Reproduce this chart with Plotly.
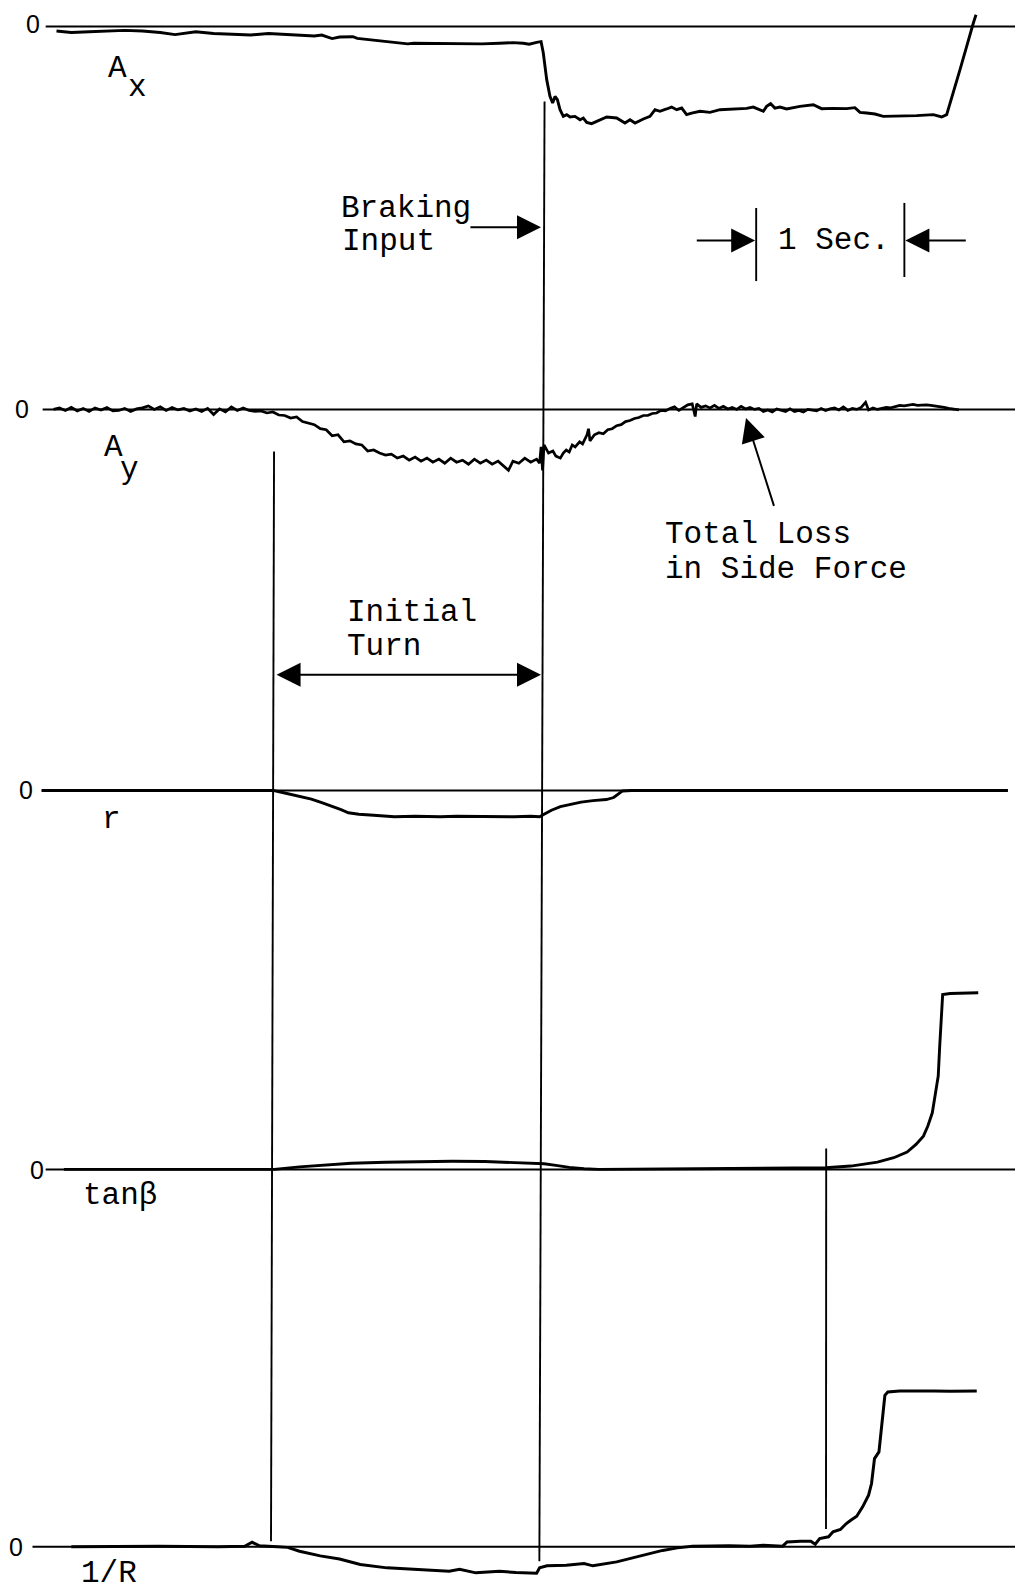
import plotly.graph_objects as go

# ---------------- data (time in s, 0 = braking input; deflection in chart units) -------------
ax_t = [-3.29, -3.19, -3.07, -2.95, -2.83, -2.71, -2.59, -2.49, -2.42, -2.35, -2.23, -2.11,
        -1.98, -1.86, -1.74, -1.62, -1.55, -1.50, -1.43, -1.38, -1.29, -1.26, -1.14, -1.02,
        -0.92, -0.88, -0.78, -0.66, -0.54, -0.42, -0.30, -0.21, -0.14, -0.10, -0.05, -0.02,
        -0.005, 0.018, 0.040, 0.058, 0.074, 0.090, 0.108, 0.130, 0.153, 0.175, 0.209, 0.243,
        0.265, 0.288, 0.321, 0.355, 0.423, 0.490, 0.546, 0.580, 0.614, 0.670, 0.715, 0.749,
        0.782, 0.827, 0.861, 0.895, 0.929, 0.962, 0.996, 1.053, 1.120, 1.187, 1.277, 1.367,
        1.412, 1.480, 1.502, 1.529, 1.558, 1.592, 1.637, 1.727, 1.817, 1.873, 1.952, 2.042,
        2.098, 2.132, 2.177, 2.233, 2.289, 2.402, 2.514, 2.627, 2.683, 2.717, 2.762, 2.807,
        2.852, 2.879, 2.897, 2.915]
ax_v = [-0.46, -0.60, -0.53, -0.46, -0.39, -0.46, -0.60, -0.81, -0.67, -0.53, -0.70, -0.77,
        -0.85, -0.70, -0.77, -0.85, -0.95, -0.85, -1.20, -1.05, -1.02, -1.18, -1.35, -1.55,
        -1.72, -1.66, -1.68, -1.72, -1.76, -1.72, -1.66, -1.60, -1.66, -1.76, -1.58, -1.50,
        -2.63, -5.25, -6.90, -7.55, -6.90, -7.22, -8.21, -8.87, -8.70, -8.93, -8.87, -9.20,
        -9.03, -9.46, -9.59, -9.36, -8.93, -9.03, -9.52, -9.20, -9.52, -9.13, -8.87, -8.21,
        -8.37, -8.14, -7.95, -8.21, -8.05, -8.70, -8.54, -8.37, -8.47, -8.21, -8.14, -8.08,
        -7.95, -8.37, -7.88, -7.62, -8.05, -7.95, -8.14, -7.88, -7.72, -8.11, -8.08, -8.11,
        -8.01, -8.47, -8.54, -8.64, -8.87, -8.87, -8.80, -8.70, -8.93, -8.70, -6.57, -4.27,
        -1.97, -0.49, 0.33, 1.15]

ay_t = [-3.31, -3.27, -3.23, -3.19, -3.15, -3.11, -3.07, -3.03, -2.99, -2.95, -2.91, -2.87,
        -2.83, -2.79, -2.75, -2.71, -2.67, -2.63, -2.59, -2.55, -2.51, -2.47, -2.43, -2.39,
        -2.35, -2.31, -2.27, -2.23, -2.19, -2.15, -2.11, -2.07, -2.03, -1.99, -1.95,
        -1.91, -1.87, -1.83, -1.79, -1.75, -1.71, -1.67, -1.63, -1.59, -1.55, -1.51, -1.47,
        -1.43, -1.39, -1.35, -1.31, -1.27, -1.23, -1.19, -1.15, -1.11, -1.07, -1.03, -0.99,
        -0.95, -0.91, -0.87, -0.83, -0.79, -0.75, -0.71, -0.67, -0.63, -0.59, -0.55, -0.51,
        -0.47, -0.43, -0.39, -0.35, -0.31, -0.27, -0.24, -0.21, -0.17, -0.13, -0.09, -0.05,
        -0.03, -0.02, -0.01, 0.00, 0.03, 0.06, 0.08, 0.11, 0.13, 0.15, 0.17, 0.19, 0.21,
        0.24, 0.26, 0.29, 0.30, 0.31, 0.34, 0.37, 0.40, 0.43, 0.46, 0.49, 0.52, 0.55, 0.58,
        0.61, 0.64, 0.67, 0.70, 0.73, 0.76, 0.79, 0.82, 0.85, 0.88, 0.91, 0.94, 0.97, 1.00,
        1.02, 1.03, 1.06, 1.09, 1.12, 1.15, 1.18, 1.21, 1.24, 1.27, 1.30, 1.33, 1.36, 1.39,
        1.42, 1.45, 1.48, 1.51, 1.54, 1.57, 1.60, 1.63, 1.66, 1.69, 1.72, 1.75, 1.78, 1.81,
        1.84, 1.87, 1.90, 1.93, 1.96, 1.99, 2.02, 2.05, 2.08, 2.11, 2.14, 2.17, 2.19, 2.22,
        2.25, 2.28, 2.31, 2.34, 2.37, 2.40, 2.43, 2.46, 2.49, 2.52, 2.55, 2.58, 2.61, 2.64,
        2.67, 2.70, 2.73, 2.76, 2.80]
ay_v = [0.0, 0.15, -0.1, 0.2, -0.15, 0.1, -0.2, 0.15, -0.05, 0.2, -0.15, -0.1,
        0.1, -0.2, 0.05, 0.15, 0.35, 0.0, 0.25, -0.1, 0.2, -0.05, 0.1, -0.15,
        0.05, -0.2, 0.1, -0.5, 0.05, -0.25, 0.25, -0.1, 0.15, -0.1, -0.2,
        -0.15, -0.35, -0.25, -0.55, -0.6, -0.85, -0.75, -1.2, -1.35, -1.5, -1.9, -2.0,
        -2.6, -2.5, -3.2, -3.1, -3.4, -3.5, -4.1, -4.0, -4.3, -4.5, -4.4, -4.8,
        -4.6, -5.0, -4.7, -5.1, -4.8, -5.2, -4.9, -5.3, -4.8, -5.2, -5.0, -5.4,
        -4.9, -5.3, -5.0, -5.4, -5.1, -5.6, -6.0, -5.1, -5.3, -4.8, -5.2, -4.9,
        -5.3, -3.7, -6.0, -3.5, -4.3, -4.1, -4.6, -4.8, -4.3, -4.0, -4.2, -3.5, -3.7,
        -3.2, -3.4, -2.5, -1.9, -3.1, -2.5, -2.3, -2.4, -2.0, -1.9, -1.6, -1.5, -1.2, -1.1,
        -0.9, -0.8, -0.6, -0.6, -0.4, -0.35, -0.1, -0.15, 0.1, 0.25, -0.1, 0.2, 0.45, 0.55,
        -0.7, 0.55, 0.2, 0.35, 0.15, 0.4, 0.1, 0.3, 0.05, 0.2, 0.0, 0.3, 0.05, 0.2,
        0.0, 0.1, -0.2, -0.05, -0.25, 0.05, -0.1, -0.2, 0.05, -0.2, -0.1, -0.25, 0.0, -0.1,
        -0.15, 0.1, -0.1, 0.05, 0.15, -0.05, 0.25, -0.1, 0.1, 0.0, 0.2, 0.7, -0.05, 0.15,
        0.0, 0.1, 0.2, 0.15, 0.3, 0.4, 0.35, 0.45, 0.5, 0.4, 0.45, 0.45, 0.4, 0.35,
        0.25, 0.2, 0.1, 0.05, -0.05]

r_t = [-3.39, -1.83, -1.75, -1.65, -1.57, -1.50, -1.43, -1.37, -1.32, -1.25, -1.15, -1.01,
       -0.87, -0.70, -0.59, -0.45, -0.31, -0.20, -0.09, -0.03, 0.00, 0.05, 0.11, 0.18, 0.25,
       0.33, 0.42, 0.47, 0.50, 0.53, 0.59, 3.13]
r_v = [0, 0, -0.25, -0.55, -0.85, -1.2, -1.55, -1.9, -2.2, -2.35, -2.45, -2.6,
       -2.55, -2.6, -2.55, -2.58, -2.55, -2.6, -2.55, -2.6, -2.35, -1.95, -1.6, -1.35, -1.15,
       -1.0, -0.9, -0.7, -0.4, -0.05, 0, 0]

tb_t = [-3.24, -1.82, -1.65, -1.48, -1.30, -1.07, -0.85, -0.62, -0.40, -0.25, -0.10, 0.00,
        0.08, 0.17, 0.27, 0.37, 1.90, 2.07, 2.25, 2.36, 2.45, 2.51, 2.56, 2.59, 2.62, 2.64,
        2.66, 2.67, 2.68, 2.69, 2.74, 2.85, 2.93]
tb_v = [0, 0, 0.25, 0.45, 0.6, 0.7, 0.78, 0.8, 0.78, 0.72, 0.65, 0.55,
        0.4, 0.2, 0.07, 0, 0.16, 0.33, 0.72, 1.15, 1.71, 2.46, 3.28, 4.27, 5.58, 7.22,
        9.2, 12.15, 15.43, 17.24, 17.34, 17.41, 17.41]

ir_t = [-3.19, -2.60, -2.20, -2.02, -1.97, -1.92, -1.80, -1.73, -1.65, -1.51, -1.38, -1.24,
        -1.06, -0.86, -0.64, -0.57, -0.46, -0.30, -0.19, -0.05, -0.03, 0.02, 0.15, 0.27, 0.33,
        0.49, 0.57, 0.70, 0.80, 0.90, 1.00, 1.13, 1.25, 1.39, 1.48, 1.61, 1.64, 1.73, 1.80,
        1.83, 1.86, 1.92, 1.95, 2.00, 2.04, 2.07, 2.11, 2.15, 2.19, 2.21, 2.23, 2.26, 2.27,
        2.28, 2.29, 2.30, 2.32, 2.40, 2.63, 2.74, 2.92]
ir_v = [0, 0.05, 0.0, 0.05, 0.45, 0.1, 0.0, -0.05, -0.43, -0.89, -1.2, -1.74,
        -2.07, -2.2, -2.4, -2.2, -2.56, -2.4, -2.53, -2.6, -2.07, -1.87, -1.8, -1.64, -1.87,
        -1.48, -1.2, -0.75, -0.35, -0.1, 0.05, 0.08, 0.12, 0.07, 0.16, 0.07, 0.49, 0.56, 0.56,
        0.26, 0.82, 0.99, 1.48, 1.71, 2.3, 2.63, 3.02, 3.94, 5.09, 6.24, 8.7, 9.36, 10.84,
        12.15, 13.46, 14.94, 15.27, 15.37, 15.37, 15.34, 15.37]

# ---------------- layout helpers (reference drawn on a 1000 x 1568 grid) ----------------
W, H = 1015, 1591
GW, GH = 1000.0, 1568.0
T0, PPS = 536.0, 146.0          # x of braking input, pixels per second
UNIT = 10.0                     # grid pixels per deflection unit


def px(x):
    return x / GW


def py(y):
    return 1 - y / GH


def tt(x):
    return (x - T0) / PPS


zero_y = [26, 403.5, 779, 1152.5, 1524.5]          # zero line positions for each channel
zero_x = [(45, 1000), (42, 1000), (41, 993), (45, 1000), (32, 1000)]
axis_ids = ["y", "y2", "y3", "y4", "y5"]

fig = go.Figure()
series = [(ax_t, ax_v, 2.9), (ay_t, ay_v, 2.7), (r_t, r_v, 2.9), (tb_t, tb_v, 2.9), (ir_t, ir_v, 3.0)]
for (t, v, w), yid in zip(series, axis_ids):
    fig.add_trace(go.Scatter(x=t, y=v, yaxis=yid, mode="lines",
                             line=dict(color="black", width=w), hoverinfo="skip",
                             showlegend=False))

layout = dict(
    width=W, height=H, margin=dict(l=0, r=0, t=0, b=0),
    paper_bgcolor="white", plot_bgcolor="white", showlegend=False,
    xaxis=dict(range=[tt(0), tt(GW)], domain=[0, 1], visible=False, fixedrange=True),
)
for i, (yid, z) in enumerate(zip(axis_ids, zero_y)):
    key = "yaxis" if i == 0 else "yaxis%d" % (i + 1)
    d = dict(range=[(z - GH) / UNIT, z / UNIT], domain=[0, 1], visible=False, fixedrange=True)
    if i > 0:
        d["overlaying"] = "y"
    layout[key] = d
fig.update_layout(**layout)

shapes = []
for yid, (x0, x1) in zip(axis_ids, zero_x):
    shapes.append(dict(type="line", xref="x", yref=yid, x0=tt(x0), x1=tt(x1), y0=0, y1=0,
                       line=dict(color="black", width=2)))


def vline(xa, ya, xb, yb, w=1.9):
    return dict(type="line", xref="x", yref="paper", x0=tt(xa), x1=tt(xb), y0=py(ya), y1=py(yb),
                line=dict(color="black", width=w))


shapes += [
    vline(270, 445, 267, 1519),          # start of initial turn
    vline(536.5, 100, 531.4, 1538.6),    # braking input
    vline(814, 1132, 813.8, 1507),       # onset of spin-out
    vline(745, 205, 745, 277),           # 1 sec marker
    vline(891, 200, 891, 273),
]
fig.update_layout(shapes=shapes)

MONO = "Liberation Mono"
SANS = "Liberation Sans"
ann = []


def text(s, x, y, size=31, family=MONO, anchor="left"):
    ann.append(dict(text=s, x=px(x), y=py(y), xref="paper", yref="paper", showarrow=False,
                    xanchor=anchor, yanchor="middle", font=dict(family=family, size=size, color="black")))


def arrow(tip, tail, both=False):
    d = dict(text="", x=px(tip[0]), y=py(tip[1]), xref="paper", yref="paper",
             ax=(tail[0] - tip[0]) * W / GW, ay=(tail[1] - tip[1]) * H / GH,
             showarrow=True, arrowhead=2, arrowsize=2.4, arrowwidth=2, arrowcolor="black",
             standoff=0, arrowside="end+start" if both else "end")
    if both:
        d.update(startarrowhead=2, startarrowsize=2.4, startstandoff=0)
    ann.append(d)


# zero labels
for (x, y) in [(33, 24), (22, 403), (26, 779), (36, 1153), (16, 1525)]:
    text("0", x, y, size=25, family=SANS, anchor="center")

# channel labels
text("A", 116, 68, anchor="center")
text("x", 135, 86, anchor="center")
text("A", 112, 441, anchor="center")
text("y", 128, 463, anchor="center")
text("r", 110, 808, anchor="center")
text("tanβ", 80, 1178)
text("1/R", 78, 1551)

# annotations
text("Braking", 334, 205)
text("Input", 335, 238)
text("1 Sec.", 765, 237)
text("Total Loss", 653, 527)
text("in Side Force", 653, 561)
text("Initial", 340, 604)
text("Turn", 340, 637)

arrow((533, 224), (462, 224))
arrow((744, 237), (685, 237))
arrow((892, 237), (953, 237))
arrow((735, 412), (763, 500))
arrow((533, 665), (271, 665), both=True)

fig.update_layout(annotations=ann)
fig.write_html("out.html")
